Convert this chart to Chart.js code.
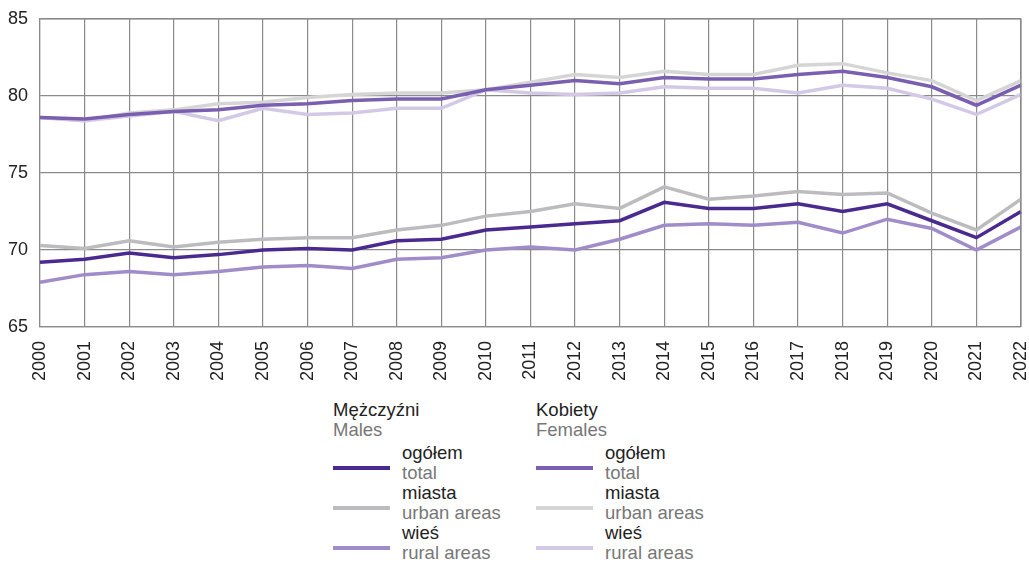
<!DOCTYPE html>
<html lang="pl">
<head>
<meta charset="UTF-8">
<title>Przeciętne dalsze trwanie życia</title>
<script src="https://cdn.jsdelivr.net/npm/chart.js"></script>
<style>
    html, body { margin: 0; background: #fff; overflow: hidden; font-family: "Liberation Sans", Arial, sans-serif; }
    .wykres { position: relative; width: 1029px; height: 390px; }
    .legenda { position: absolute; top: 400px; font-size: 18.5px; line-height: 20px; }
    .legenda .pl { color: #222; }
    .legenda .en { color: #777; }
    .pozycja { position: relative; padding-left: 69px; }
    .pozycja.pierwsza { margin-top: 3px; }
    .pozycja span.linia { position: absolute; left: 0; top: 23px; width: 57px; height: 4px; }
</style>
</head>
<body>
<div class="wykres"><canvas id="graficoLinie"></canvas></div>

<div class="legenda" style="left:333px">
    <div class="pl">Mężczyźni</div>
    <div class="en">Males</div>
    <div class="pozycja pierwsza"><span class="linia" style="background:#4a2a8f"></span><div class="pl">ogółem</div><div class="en">total</div></div>
    <div class="pozycja"><span class="linia" style="background:#bcbcbf"></span><div class="pl">miasta</div><div class="en">urban areas</div></div>
    <div class="pozycja"><span class="linia" style="background:#a08cc8"></span><div class="pl">wieś</div><div class="en">rural areas</div></div>
</div>
<div class="legenda" style="left:536px">
    <div class="pl">Kobiety</div>
    <div class="en">Females</div>
    <div class="pozycja pierwsza"><span class="linia" style="background:#7a5fb0"></span><div class="pl">ogółem</div><div class="en">total</div></div>
    <div class="pozycja"><span class="linia" style="background:#d5d5d5"></span><div class="pl">miasta</div><div class="en">urban areas</div></div>
    <div class="pozycja"><span class="linia" style="background:#d3c9e7"></span><div class="pl">wieś</div><div class="en">rural areas</div></div>
</div>

<script>
    const lata = ['2000', '2001', '2002', '2003', '2004', '2005', '2006', '2007', '2008', '2009', '2010',
        '2011', '2012', '2013', '2014', '2015', '2016', '2017', '2018', '2019', '2020', '2021', '2022'];

    const mezczyzniOgolem = [69.2, 69.4, 69.8, 69.5, 69.7, 70.0, 70.1, 70.0, 70.6, 70.7, 71.3,
        71.5, 71.7, 71.9, 73.1, 72.7, 72.7, 73.0, 72.5, 73.0, 71.9, 70.8, 72.5];
    const mezczyzniMiasta = [70.3, 70.1, 70.6, 70.2, 70.5, 70.7, 70.8, 70.8, 71.3, 71.6, 72.2,
        72.5, 73.0, 72.7, 74.1, 73.3, 73.5, 73.8, 73.6, 73.7, 72.4, 71.3, 73.3];
    const mezczyzniWies = [67.9, 68.4, 68.6, 68.4, 68.6, 68.9, 69.0, 68.8, 69.4, 69.5, 70.0,
        70.2, 70.0, 70.7, 71.6, 71.7, 71.6, 71.8, 71.1, 72.0, 71.4, 70.0, 71.5];

    const kobietyOgolem = [78.6, 78.5, 78.8, 79.0, 79.1, 79.4, 79.5, 79.7, 79.8, 79.8, 80.4,
        80.7, 81.0, 80.8, 81.2, 81.1, 81.1, 81.4, 81.6, 81.2, 80.6, 79.4, 80.7];
    const kobietyMiasta = [78.6, 78.4, 78.9, 79.1, 79.5, 79.6, 79.9, 80.1, 80.2, 80.2, 80.4,
        80.9, 81.4, 81.2, 81.6, 81.4, 81.4, 82.0, 82.1, 81.5, 81.0, 79.7, 81.0];
    const kobietyWies = [78.6, 78.4, 78.7, 79.0, 78.4, 79.2, 78.8, 78.9, 79.2, 79.2, 80.4,
        80.2, 80.1, 80.2, 80.6, 80.5, 80.5, 80.2, 80.7, 80.5, 79.8, 78.8, 80.1];

    const osY = [65, 70, 75, 80, 85];

    function seria(dane, kolor, kolejnosc) {
        return {
            data: dane,
            borderColor: kolor,
            backgroundColor: kolor,
            borderWidth: 3.5,
            pointRadius: 0,
            tension: 0,
            order: kolejnosc
        };
    }

    const ctx = document.getElementById('graficoLinie');
    new Chart(ctx, {
        type: 'line',
        data: {
            labels: lata,
            datasets: [
                seria(mezczyzniMiasta, '#bcbcbf', 6),
                seria(mezczyzniWies, '#a08cc8', 5),
                seria(mezczyzniOgolem, '#4a2a8f', 1),
                seria(kobietyMiasta, '#d5d5d5', 4),
                seria(kobietyWies, '#d3c9e7', 3),
                seria(kobietyOgolem, '#7a5fb0', 2)
            ]
        },
        options: {
            responsive: true,
            maintainAspectRatio: false,
            animation: false,
            layout: { padding: { top: 19, right: 8, left: 0, bottom: 0 } },
            plugins: { legend: { display: false }, tooltip: { enabled: false } },
            scales: {
                x: {
                    offset: false,
                    grid: { color: '#8a8a8a', lineWidth: 1.2, drawTicks: false },
                    border: { color: '#8a8a8a', width: 1.2 },
                    ticks: {
                        color: '#222',
                        font: { family: 'Liberation Sans', size: 18 },
                        minRotation: 90,
                        maxRotation: 90,
                        padding: 14,
                        autoSkip: false
                    },
                    afterFit: function (scale) {
                        scale.height = 63;
                        scale.paddingLeft = 0;
                        scale.paddingRight = 0;
                    }
                },
                y: {
                    min: 65,
                    max: 85,
                    afterBuildTicks: function (scale) {
                        scale.ticks = osY.map(function (v) { return { value: v }; });
                    },
                    grid: { color: '#8a8a8a', lineWidth: 1.2, drawTicks: false },
                    border: { color: '#8a8a8a', width: 1.2 },
                    ticks: {
                        color: '#222',
                        font: { family: 'Liberation Sans', size: 18 },
                        padding: 12
                    },
                    afterFit: function (scale) {
                        scale.width = 40;
                        scale.paddingTop = 0;
                        scale.paddingBottom = 0;
                    }
                }
            }
        },
        plugins: [{
            id: 'ramka',
            afterDraw: function (chart) {
                const a = chart.chartArea;
                const c = chart.ctx;
                c.save();
                c.strokeStyle = '#8a8a8a';
                c.lineWidth = 1.2;
                c.beginPath();
                c.moveTo(a.left, a.top);
                c.lineTo(a.right, a.top);
                c.lineTo(a.right, a.bottom);
                c.stroke();
                c.restore();
            }
        }]
    });
</script>
</body>
</html>
